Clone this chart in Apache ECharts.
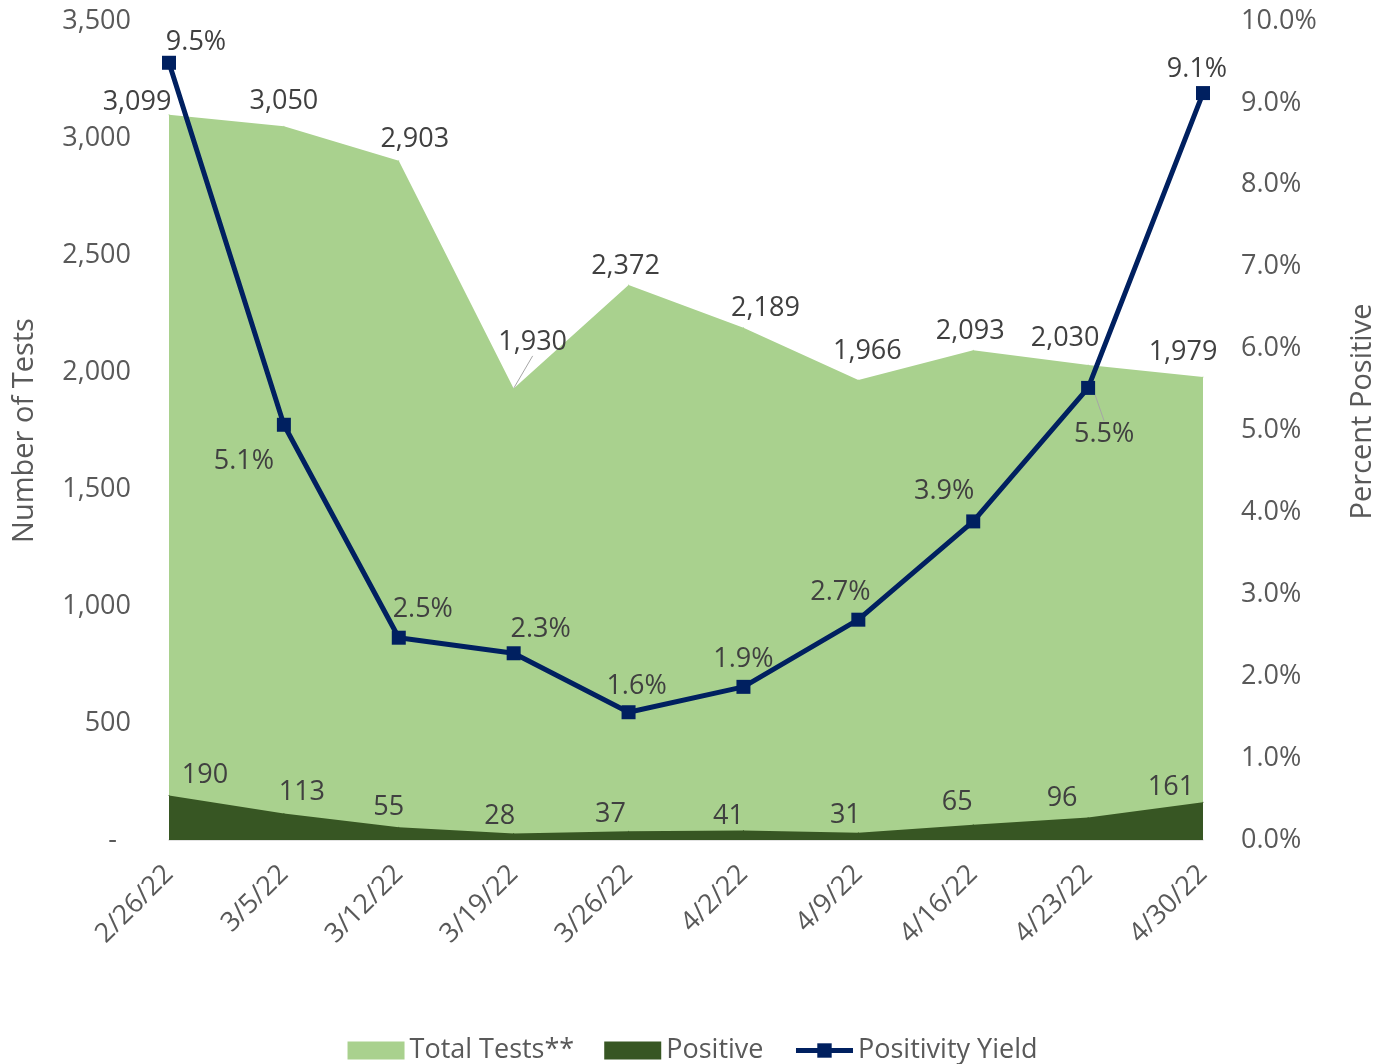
<!DOCTYPE html>
<html>
<head>
<meta charset="utf-8">
<script src="https://cdn.jsdelivr.net/npm/echarts@6/dist/echarts.min.js"></script>
<style>html,body{margin:0;padding:0;background:#fff;}#c{width:1385px;height:1064px;}</style>
</head>
<body>
<div id="c"></div>
<script>
const categories = ['2/26/22','3/5/22','3/12/22','3/19/22','3/26/22','4/2/22','4/9/22','4/16/22','4/23/22','4/30/22'];
const totalTests = [3099, 3050, 2903, 1930, 2372, 2189, 1966, 2093, 2030, 1979];
const positive = [190, 113, 55, 28, 37, 41, 31, 65, 96, 161];
const positivityYield = [9.49, 5.07, 2.47, 2.28, 1.56, 1.87, 2.69, 3.89, 5.52, 9.12];

// label nudges (style only)
const totalLabelShift = [[-32,6],[0,-6],[16,-2],[19,-27],[-3,0],[22,0],[9,-10],[-3,0],[-23,-8],[-20,-6]];
const posLabelShift = [[36,-1],[18,-2],[-10,-1],[-14,2],[-18,2],[-15,5],[-13,2],[-16,-3],[-26,0],[-32,4]];
const yieldLabelShift = [[27,5],[-40,62],[24,-3],[27,2],[8,0],[0,-2],[-18,-2],[-29,-5],[16,72],[-6,2]];
const totalLeader = [3];
const yieldLeader = [8];

const FONT = 'Open Sans';
const FS = 27;
const chart = echarts.init(document.getElementById('c'));
const fmt = v => v.toLocaleString('en-US');

chart.setOption({
  animation: false,
  textStyle: { fontFamily: FONT },
  grid: { left: 169, right: 182, top: 21, bottom: 224 },
  legend: {
    bottom: -5, left: 'center',
    itemWidth: 57, itemHeight: 18, itemGap: 30,
    textStyle: { fontFamily: FONT, fontSize: FS, color: '#595959' },
    data: [
      { name: 'Total Tests**', icon: 'rect' },
      { name: 'Positive', icon: 'rect' },
      { name: 'Positivity Yield', lineStyle: { width: 5, color: '#002060' } }
    ]
  },
  xAxis: {
    type: 'category', data: categories, boundaryGap: false,
    axisLine: { lineStyle: { color: '#d9d9d9', width: 1.5 } },
    axisTick: { show: false },
    axisLabel: { rotate: 45, fontSize: FS, color: '#595959', fontFamily: FONT, margin: 30 }
  },
  yAxis: [
    {
      type: 'value', min: 0, max: 3500, interval: 500,
      name: 'Number of Tests', nameLocation: 'middle', nameGap: 130,
      nameTextStyle: { fontSize: 29, color: '#595959', fontFamily: FONT },
      splitLine: { show: false }, axisLine: { show: false }, axisTick: { show: false },
      axisLabel: { fontSize: FS, color: '#595959', margin: 38, fontFamily: FONT,
        formatter: v => v === 0 ? '-  ' : fmt(v) }
    },
    {
      type: 'value', min: 0, max: 10, interval: 1,
      name: 'Percent Positive', nameLocation: 'middle', nameGap: 145, nameRotate: 90,
      nameTextStyle: { fontSize: 29, color: '#595959', fontFamily: FONT, padding: [0, 0, 0, 38] },
      splitLine: { show: false }, axisLine: { show: false }, axisTick: { show: false },
      axisLabel: { fontSize: FS, color: '#595959', margin: 38, fontFamily: FONT,
        formatter: v => v.toFixed(1) + '%' }
    }
  ],
  series: [
    {
      name: 'Total Tests**', type: 'line', yAxisIndex: 0, z: 1,
      data: totalTests.map((v, i) => ({ value: v, labelLine: { show: totalLeader.includes(i) } })),
      symbol: 'circle', symbolSize: 1, showSymbol: true,
      itemStyle: { color: '#a9d18e' },
      lineStyle: { width: 0, color: '#a9d18e' },
      areaStyle: { color: '#a9d18e', opacity: 1 },
      label: { show: true, position: 'top', fontSize: FS, color: '#404040', fontFamily: FONT, formatter: p => fmt(p.value) },
      labelLine: { show: false, lineStyle: { color: '#a6a6a6', width: 1 } },
      labelLayout: p => ({ dx: totalLabelShift[p.dataIndex][0], dy: totalLabelShift[p.dataIndex][1] })
    },
    {
      name: 'Positive', type: 'line', yAxisIndex: 0, z: 2,
      data: positive,
      symbol: 'circle', symbolSize: 1, showSymbol: true,
      itemStyle: { color: '#375623' },
      lineStyle: { width: 0, color: '#375623' },
      areaStyle: { color: '#375623', opacity: 1 },
      label: { show: true, position: 'top', fontSize: FS, color: '#404040', fontFamily: FONT },
      labelLayout: p => ({ dx: posLabelShift[p.dataIndex][0], dy: posLabelShift[p.dataIndex][1] })
    },
    {
      name: 'Positivity Yield', type: 'line', yAxisIndex: 1, z: 5,
      data: positivityYield.map((v, i) => ({ value: v, labelLine: { show: yieldLeader.includes(i) } })),
      symbol: 'rect', symbolSize: 14, showSymbol: true,
      itemStyle: { color: '#002060' },
      lineStyle: { width: 5, color: '#002060' },
      label: { show: true, position: 'top', fontSize: FS, color: '#404040', fontFamily: FONT,
        formatter: p => p.value.toFixed(1) + '%' },
      labelLine: { show: false, lineStyle: { color: '#a6a6a6', width: 1 } },
      labelLayout: p => ({ dx: yieldLabelShift[p.dataIndex][0], dy: yieldLabelShift[p.dataIndex][1] })
    }
  ]
});
</script>
</body>
</html>
